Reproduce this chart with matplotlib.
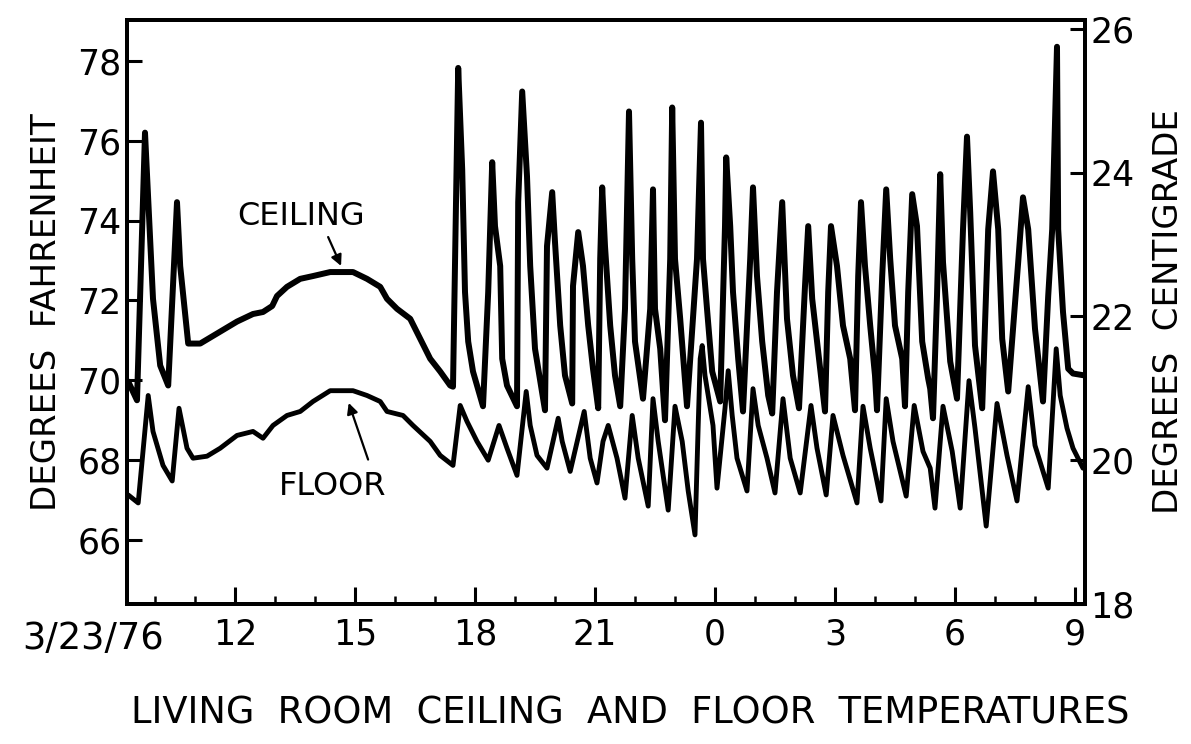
import matplotlib
matplotlib.use("Agg")
import matplotlib.pyplot as plt
from matplotlib.ticker import FixedLocator, MultipleLocator

plt.rcParams['font.family'] = ['DejaVu Sans']

# ---- data (hours since midnight 3/23/76, degrees F) ----
ceiling_t = [9.33, 9.55, 9.75, 9.95, 10.13, 10.33, 10.55, 10.63, 10.83, 11.13, 11.63, 12.05, 12.45, 12.7,
             12.93, 13.05, 13.3, 13.63, 13.95, 14.38, 14.95, 15.3, 15.63, 15.8, 16.05, 16.38, 16.63, 16.88,
             17.13, 17.38, 17.45, 17.58, 17.68, 17.75, 17.83, 17.95, 18.2, 18.33, 18.38, 18.43, 18.5, 18.63,
             18.68, 18.8, 19.05, 19.08, 19.18, 19.3, 19.38, 19.5, 19.75, 19.8, 19.93, 20.0, 20.13, 20.25,
             20.43, 20.45, 20.58, 20.7, 20.83, 20.95, 21.08, 21.13, 21.18, 21.25, 21.38, 21.5, 21.63, 21.75,
             21.8, 21.85, 21.93, 22.0, 22.2, 22.38, 22.43, 22.45, 22.5, 22.63, 22.75, 22.88, 22.93, 23.0,
             23.13, 23.3, 23.55, 23.65, 23.7, 23.8, 23.93, 24.13, 24.25, 24.28, 24.38, 24.45, 24.58, 24.7,
             24.88, 24.95, 25.05, 25.18, 25.33, 25.43, 25.55, 25.68, 25.8, 25.95, 26.1, 26.25, 26.33, 26.43,
             26.58, 26.75, 26.83, 26.9, 27.05, 27.2, 27.38, 27.5, 27.58, 27.65, 27.75, 27.88, 28.0, 28.05,
             28.18, 28.28, 28.38, 28.5, 28.68, 28.75, 28.83, 28.93, 29.05, 29.18, 29.33, 29.38, 29.45, 29.55,
             29.63, 29.7, 29.88, 30.05, 30.2, 30.3, 30.38, 30.5, 30.68, 30.83, 30.95, 31.08, 31.18, 31.33,
             31.58, 31.7, 31.83, 32.0, 32.2, 32.33, 32.43, 32.55, 32.58, 32.7, 32.83, 32.95, 33.25]
ceiling_f = [69.97, 69.5, 76.2, 72.04, 70.37, 69.87, 74.46, 72.86, 70.92, 70.92, 71.22, 71.47, 71.66, 71.71,
             71.86, 72.11, 72.34, 72.54, 72.61, 72.71, 72.71, 72.54, 72.34, 72.04, 71.79, 71.54, 71.04, 70.54,
             70.22, 69.87, 69.84, 77.82, 75.28, 72.21, 70.97, 70.22, 69.35, 72.21, 73.86, 75.46, 73.86, 72.86,
             70.54, 69.87, 69.35, 74.46, 77.23, 75.11, 72.86, 70.79, 69.25, 73.36, 74.71, 73.46, 71.37, 70.12,
             69.42, 72.36, 73.71, 72.86, 71.37, 70.29, 69.3, 73.04, 74.83, 73.36, 71.37, 70.12, 69.35, 71.79,
             74.28, 76.73, 73.04, 70.97, 69.54, 71.79, 73.86, 74.78, 71.79, 70.79, 69.0, 73.04, 76.83, 73.04,
             71.54, 69.35, 73.04, 76.45, 73.04, 71.79, 70.22, 69.47, 73.86, 75.58, 73.86, 72.21, 70.54, 69.22,
             73.04, 74.83, 72.61, 70.97, 69.62, 69.17, 72.21, 74.46, 71.54, 70.12, 69.3, 72.36, 73.86, 72.04,
             70.72, 69.22, 72.21, 73.86, 72.86, 71.37, 70.54, 69.25, 72.61, 74.46, 72.86, 71.37, 70.12, 69.25,
             72.61, 74.78, 73.04, 71.37, 70.54, 69.35, 72.21, 74.66, 73.86, 70.97, 70.04, 69.79, 69.05, 72.11,
             75.16, 72.96, 70.47, 69.54, 73.78, 76.1, 74.21, 70.87, 69.3, 73.78, 75.23, 73.78, 71.04, 69.72,
             72.96, 74.58, 73.78, 71.29, 69.47, 72.11, 73.78, 78.35, 73.78, 71.71, 70.29, 70.17, 70.12]

floor_t = [9.33, 9.58, 9.83, 9.95, 10.2, 10.43, 10.6, 10.8, 10.95, 11.3, 11.63, 12.05, 12.45, 12.7, 12.95,
           13.3, 13.63, 13.95, 14.38, 14.95, 15.3, 15.63, 15.8, 16.2, 16.45, 16.88, 17.13, 17.45, 17.63, 17.8,
           18.05, 18.33, 18.6, 18.8, 19.05, 19.28, 19.38, 19.55, 19.8, 20.08, 20.18, 20.38, 20.73, 20.88,
           21.05, 21.2, 21.33, 21.55, 21.75, 21.93, 22.08, 22.33, 22.45, 22.58, 22.83, 23.0, 23.18, 23.33,
           23.5, 23.58, 23.63, 23.68, 23.75, 23.95, 24.05, 24.25, 24.33, 24.43, 24.55, 24.8, 24.95, 25.08,
           25.3, 25.5, 25.7, 25.88, 26.13, 26.4, 26.55, 26.78, 26.95, 27.2, 27.55, 27.7, 27.88, 28.15, 28.28,
           28.45, 28.78, 28.98, 29.2, 29.38, 29.5, 29.7, 29.93, 30.13, 30.35, 30.5, 30.78, 31.05, 31.3, 31.55,
           31.83, 32.0, 32.33, 32.53, 32.63, 32.8, 32.95, 33.2]
floor_f = [67.13, 66.93, 69.62, 68.72, 67.87, 67.48, 69.3, 68.3, 68.05, 68.1, 68.3, 68.62, 68.72, 68.55, 68.87,
           69.12, 69.22, 69.47, 69.74, 69.74, 69.62, 69.47, 69.22, 69.12, 68.87, 68.47, 68.12, 67.87, 69.37, 68.97,
           68.47, 68.0, 68.87, 68.3, 67.62, 69.72, 68.87, 68.12, 67.8, 69.05, 68.47, 67.72, 69.22, 68.05,
           67.43, 68.47, 68.87, 68.05, 67.05, 69.12, 68.05, 66.85, 69.54, 68.47, 66.75, 69.35, 68.47, 67.23,
           66.13, 68.87, 70.54, 70.87, 70.12, 68.87, 67.3, 69.3, 70.24, 69.12, 68.05, 67.23, 69.79, 68.87,
           68.05, 67.18, 69.54, 68.05, 67.18, 69.37, 68.3, 67.13, 69.12, 68.12, 66.93, 69.35, 68.3, 66.98, 69.54,
           68.47, 67.1, 69.37, 68.22, 67.8, 66.8, 69.35, 68.22, 66.8, 69.99, 68.8, 66.35, 69.42, 68.12, 66.98,
           69.84, 68.37, 67.3, 70.79, 69.62, 68.8, 68.3, 67.8]

f_ticks = [66, 68, 70, 72, 74, 76, 78]
c_ticks = [18, 20, 22, 24, 26]
hour_major = [12, 15, 18, 21, 24, 27, 30, 33]
hour_labels = ["12", "15", "18", "21", "0", "3", "6", "9"]
date_label = "3/23/76"

F_LIM = (64.4, 79.02)

# ---- figure ----
fig = plt.figure(figsize=(11.91, 7.44), dpi=100)
ax = fig.add_axes([127 / 1191, 1 - 604 / 744, (1085 - 127) / 1191, (604 - 20) / 744])

ax.plot(ceiling_t, ceiling_f, color='black', lw=4.3, solid_joinstyle='round', solid_capstyle='round')
ax.plot(floor_t, floor_f, color='black', lw=3.5, solid_joinstyle='round', solid_capstyle='round')

ax.set_xlim(9.3, 33.25)
ax.set_ylim(*F_LIM)

for s in ax.spines.values():
    s.set_linewidth(2.8)

tick_fs = 25
ax.set_yticks(f_ticks)
ax.set_yticklabels([str(v) for v in f_ticks], fontsize=tick_fs)
ax.tick_params(axis='y', direction='in', length=11, width=2.2, pad=4)
ax.xaxis.set_major_locator(FixedLocator(hour_major))
ax.set_xticklabels(hour_labels, fontsize=tick_fs)
ax.xaxis.set_minor_locator(MultipleLocator(1))
ax.tick_params(axis='x', which='major', direction='in', length=12, width=2.2, pad=10)
ax.tick_params(axis='x', which='minor', direction='in', length=6, width=1.8)

ax.text(8.45, -0.028, date_label, transform=ax.get_xaxis_transform(), ha='center', va='top',
        fontsize=26.5, clip_on=False)

# right-hand Centigrade scale
ax2 = ax.twinx()
ax2.set_ylim((F_LIM[0] - 32) / 1.8, (F_LIM[1] - 32) / 1.8)
ax2.set_yticks(c_ticks)
ax2.set_yticklabels([str(v) for v in c_ticks], fontsize=tick_fs)
ax2.tick_params(axis='y', which='both', direction='in', left=False, right=True,
                length=11, width=2.2, pad=4)
for s in ax2.spines.values():
    s.set_linewidth(2.8)

ax.set_ylabel("DEGREES  FAHRENHEIT", fontsize=24.5, labelpad=10)
ax2.set_ylabel("DEGREES  CENTIGRADE", fontsize=24.5, labelpad=12)

ax.text(13.65, 74.1, "CEILING", fontsize=23, ha='center', va='center')
ax.annotate("", xy=(14.68, 72.8), xytext=(14.3, 73.65),
            arrowprops=dict(arrowstyle='-|>', color='black', lw=1.6, mutation_scale=16))
ax.text(14.45, 67.35, "FLOOR", fontsize=23, ha='center', va='center')
ax.annotate("", xy=(14.82, 69.5), xytext=(15.35, 67.95),
            arrowprops=dict(arrowstyle='-|>', color='black', lw=1.6, mutation_scale=16))

fig.text(630 / 1191, 1 - 713 / 744, "LIVING  ROOM  CEILING  AND  FLOOR  TEMPERATURES",
         fontsize=26.5, ha='center', va='center')

fig.savefig("out.png", dpi=100)
